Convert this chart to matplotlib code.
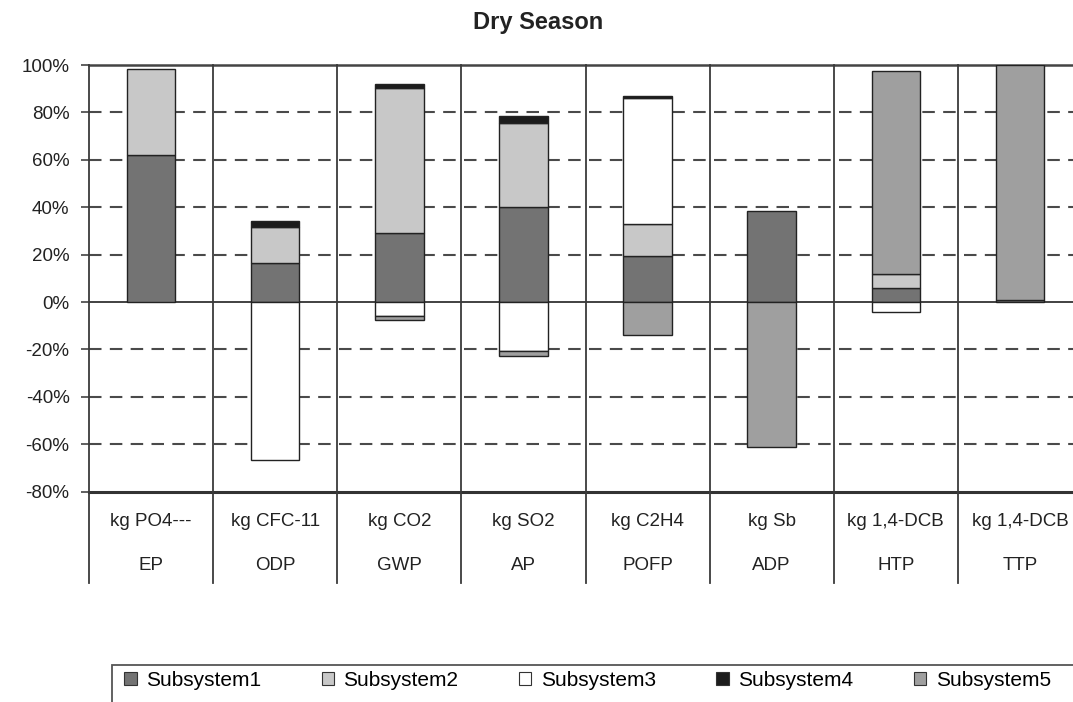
import matplotlib
matplotlib.use('Agg')
import matplotlib.pyplot as plt
import numpy as np
from matplotlib.patches import Patch, Rectangle

categories = ['EP', 'ODP', 'GWP', 'AP', 'POFP', 'ADP', 'HTP', 'TTP']
units = ['kg PO4---', 'kg CFC-11', 'kg CO2', 'kg SO2', 'kg C2H4', 'kg Sb', 'kg 1,4-DCB', 'kg 1,4-DCB']
series_names = ['Subsystem1', 'Subsystem2', 'Subsystem3', 'Subsystem4', 'Subsystem5']

subsystem1 = [62, 16.5, 29, 40, 19.5, 38.5, 6, 1]
subsystem2 = [36.5, 15, 61.5, 35.5, 13.5, 0, 6, 0]
subsystem3 = [0, -66.5, -6, -20.5, 53, 0, -4, 0]
subsystem4 = [0, 2.5, 1.5, 2.8, 1, 0, 0, 0]
subsystem5 = [0, 0, -1.7, -2.4, -14, -61, 85.5, 99]

yticks = [-80, -60, -40, -20, 0, 20, 40, 60, 80, 100]

colors = ['#737373', '#c8c8c8', '#ffffff', '#1c1c1c', '#9f9f9f']

plt.rcParams['font.family'] = ['Liberation Sans', 'DejaVu Sans']

W, H = 1073, 702
fig = plt.figure(figsize=(W / 100, H / 100), dpi=100)
ax_left, ax_right, ax_top, ax_bot = 89, 1082, 65, 491.7
ax = fig.add_axes([ax_left / W, 1 - ax_bot / H, (ax_right - ax_left) / W, (ax_bot - ax_top) / H])

x = np.arange(len(categories))
pos = np.zeros(len(categories))
neg = np.zeros(len(categories))
all_series = [subsystem1, subsystem2, subsystem3, subsystem4, subsystem5]
for vals, c, name in zip(all_series, colors, series_names):
    v = np.array(vals, dtype=float)
    bottoms = np.where(v >= 0, pos, neg)
    m = v != 0
    ax.bar(x[m], v[m], 0.39, bottom=bottoms[m], color=c, edgecolor='#222222',
           linewidth=1.0, zorder=3)
    pos += np.where(v > 0, v, 0)
    neg += np.where(v < 0, v, 0)

ax.set_xlim(-0.5, 7.5)
ax.set_ylim(-80, 100)
ax.set_yticks(yticks)
ax.set_yticklabels([f'{t}%' for t in yticks], fontsize=13.5, color='#222222')
ax.tick_params(axis='y', direction='out', length=6, width=1.2, color='#444444', pad=8)
ax.set_xticks([])
for s in ax.spines.values():
    s.set_visible(False)

for t in yticks:
    if t in (-80, 0, 100):
        continue
    ax.axhline(t, color='#4a4a4a', lw=1.5, ls=(0, (6, 4)), zorder=1)
ax.axhline(0, color='#333333', lw=1.3, zorder=2)
ax.axhline(100, color='#444444', lw=1.8, zorder=2, clip_on=False)
ax.axhline(-80, color='#333333', lw=2.2, zorder=2, clip_on=False)

tr = ax.get_xaxis_transform()
ext = -(583 - ax_bot) / (ax_bot - ax_top)
for b in np.arange(-0.5, 7.5, 1.0):
    ax.plot([b, b], [ext, 1], transform=tr, clip_on=False, color='#3a3a3a', lw=1.3, zorder=2)

y_units = -(521 - ax_bot) / (ax_bot - ax_top)
y_names = -(565 - ax_bot) / (ax_bot - ax_top)
for xi, u, n in zip(x, units, categories):
    ax.text(xi, y_units, u, transform=tr, ha='center', va='center', fontsize=13.5, color='#222222')
    ax.text(xi, y_names, n, transform=tr, ha='center', va='center', fontsize=13.5, color='#222222')

fig.text(538 / W, 1 - 22 / H, 'Dry Season', ha='center', va='center', fontsize=17,
         fontweight='bold', color='#222222')

# legend frame (extends past the right edge, as in the reference)
fig.patches.append(Rectangle((112 / W, -0.02), 1.0, (1 - 665 / H) + 0.02,
                             transform=fig.transFigure, facecolor='none',
                             edgecolor='#555555', linewidth=1.3))
handles = [Patch(facecolor=c, edgecolor='#333333', linewidth=0.8) for c in colors]
leg = fig.legend(handles, series_names, loc='upper left',
                 bbox_to_anchor=(120 / W, 1 - 667 / H), ncol=5,
                 frameon=False, handlelength=0.6, handleheight=0.6, handletextpad=0.45,
                 fontsize=15, borderaxespad=0, borderpad=0.2, columnspacing=2.9)

fig.savefig('out.png', dpi=100)
